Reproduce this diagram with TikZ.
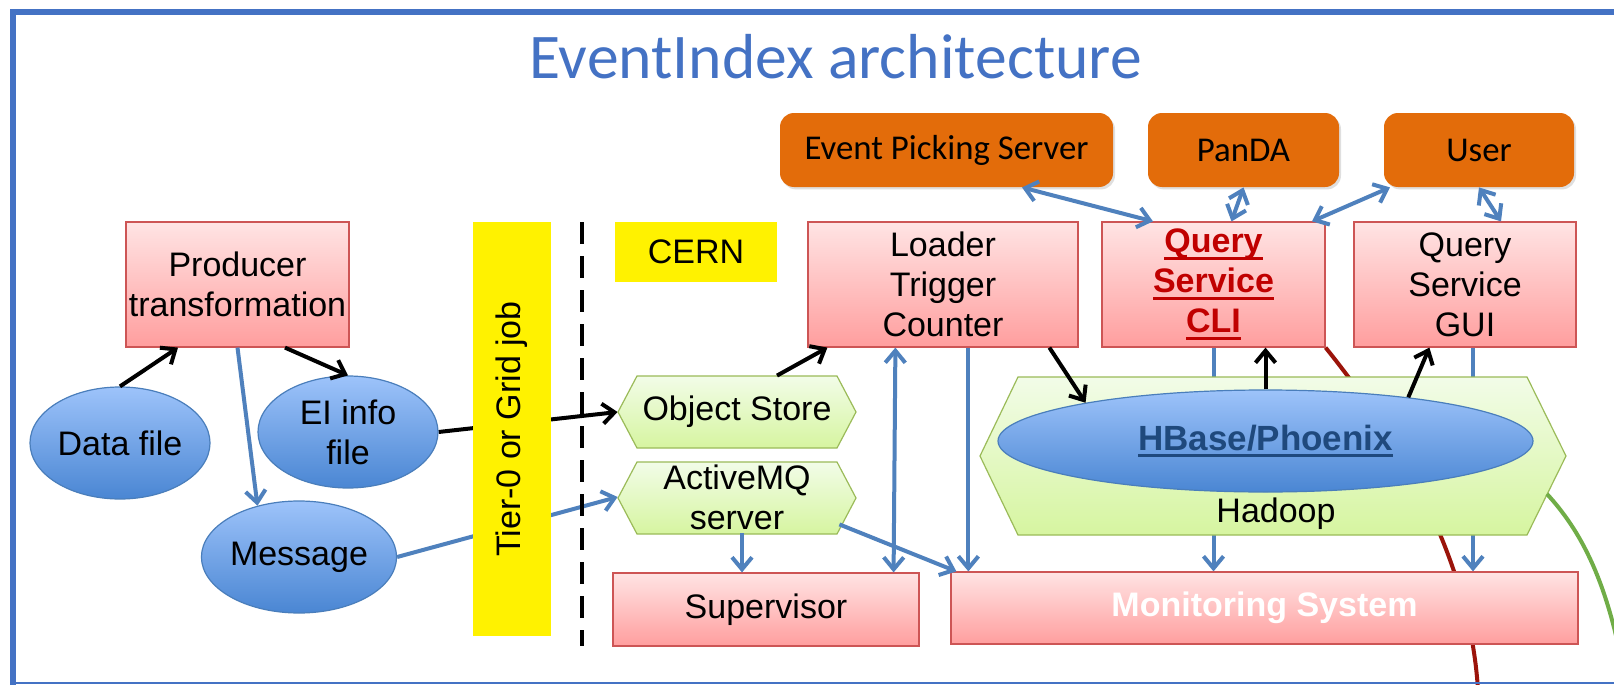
\documentclass[tikz,border=0pt]{standalone}
\usepackage{fontspec}
\setmainfont{Liberation Sans}
\newfontfamily\calibri{Carlito}
\usetikzlibrary{arrows.meta,shapes.geometric,calc,shadows}
\pgfdeclarelayer{bg}
\pgfdeclarelayer{back}
\pgfsetlayers{bg,back,main}

\definecolor{eblue}{RGB}{79,129,189}
\definecolor{frameblue}{RGB}{68,114,196}
\definecolor{orng}{RGB}{227,108,10}
\definecolor{redborder}{RGB}{205,85,85}
\definecolor{redtop}{RGB}{255,228,228}
\definecolor{redbot}{RGB}{255,158,158}
\definecolor{greentop}{RGB}{242,252,232}
\definecolor{greenbot}{RGB}{214,245,160}
\definecolor{greenborder}{RGB}{155,187,89}
\definecolor{elltop}{RGB}{157,195,250}
\definecolor{ellbot}{RGB}{74,134,211}
\definecolor{ellborder}{RGB}{74,126,187}
\definecolor{darkred}{RGB}{192,0,0}
\definecolor{hbtext}{RGB}{31,73,125}
\definecolor{redcurve}{RGB}{155,20,10}
\definecolor{greencurve}{RGB}{112,173,71}

\newlength\ulen
\newcommand\myul[1]{\settowidth\ulen{#1}\rlap{\rule[-3.5pt]{\ulen}{1.4pt}}#1}

\begin{document}
\begin{tikzpicture}[x=0.5pt,y=-0.5pt,
 txt/.style={font=\fontsize{17}{20}\selectfont, align=center, inner sep=0pt},
 redbox/.style={txt, rectangle, draw=redborder, line width=0.6pt, top color=redtop, bottom color=redbot},
 orbox/.style={font=\calibri\fontsize{17.4}{20}\selectfont, rectangle, fill=orng, rounded corners=7pt, inner sep=0pt,
   drop shadow={opacity=0.25,shadow xshift=1pt,shadow yshift=-1.2pt}},
 blueell/.style={txt, ellipse, draw=ellborder, line width=0.6pt, top color=elltop, bottom color=ellbot},
 hexfill/.style={draw=greenborder, line width=0.6pt, top color=greentop, bottom color=greenbot},
 ybox/.style={txt, rectangle, fill=yellow},
 barrow/.style={line width=2pt, eblue, -{Straight Barb[length=6pt,width=10pt]}},
 karrow/.style={line width=2pt, black, -{Straight Barb[length=6pt,width=10pt]}},
 bdouble/.style={line width=2pt, eblue, {Straight Barb[length=6pt,width=10pt]}-{Straight Barb[length=6pt,width=10pt]}},
]
\useasboundingbox (0,0) rectangle (1614,685);
\begin{pgfonlayer}{bg}
\fill[white] (0,0) rectangle (1614,685);
\end{pgfonlayer}

% frame
\draw[frameblue, line width=2.75pt] (13,686) -- (13,12) -- (1620,12);
\draw[frameblue, line width=1pt] (13,683) -- (1620,683);

% title
\node[font=\calibri\fontsize{31.8}{36}\selectfont, text=frameblue, anchor=base, inner sep=0pt] (title) at (835.5,78) {EventIndex architecture};

% left part
\node[redbox, minimum width=111.5pt, minimum height=62.5pt] (prod) at (237.5,284.5) {Producer\\transformation};
\node[blueell, minimum width=90pt, minimum height=56pt] (datafile) at (120,443) {Data file};
\node[blueell, minimum width=90pt, minimum height=56pt] (eiinfo) at (348,432) {EI info\\file};
\node[blueell, minimum width=89pt, minimum height=56pt] (message) at (299,557) {Message};

\node[ybox, rotate=90, minimum width=207pt, minimum height=39pt] (tier) at (512,429) {Tier-0 or Grid job};
\draw[line width=2pt, dash pattern=on 11pt off 6pt] (582,222) -- (582,646);

\node[ybox, minimum width=81pt, minimum height=30pt] (cern) at (696,252) {CERN};

% hexagons
\path[hexfill] (618,412) -- (637,376) -- (837,376) -- (856,412) -- (837,448) -- (637,448) -- cycle;
\node[txt, minimum width=119pt, minimum height=36pt] (objstore) at (737,412) {Object Store};
\path[hexfill] (618,498) -- (637,462) -- (837,462) -- (856,498) -- (837,534) -- (637,534) -- cycle;
\node[txt, minimum width=119pt, minimum height=36pt] (activemq) at (737,497) {ActiveMQ\\server};

\node[redbox, minimum width=153pt, minimum height=36.5pt] (supervisor) at (766,609.5) {Supervisor};
\node[redbox, minimum width=135pt, minimum height=62.5pt] (loader) at (943,284.5) {Loader\\Trigger\\Counter};

% top orange
\node[orbox, minimum width=166.5pt, minimum height=37pt] (epick) at (946.5,150) {Event Picking Server};
\node[orbox, minimum width=95.5pt, minimum height=37pt] (panda) at (1243.5,150) {PanDA};
\node[orbox, minimum width=95pt, minimum height=37pt] (user) at (1479,150) {User};

\node[redbox, font=\fontsize{17}{20}\selectfont\bfseries, text=darkred, minimum width=111.5pt, minimum height=62.5pt] (cli) at (1213.5,284.5) {\myul{Query}\\\myul{Service}\\\myul{CLI}};
\node[redbox, minimum width=111pt, minimum height=62.5pt] (gui) at (1465,284.5) {Query\\Service\\GUI};

% Hadoop
\path[hexfill] (980,456) -- (1018,377) -- (1527,377) -- (1566,456) -- (1527,535) -- (1018,535) -- cycle;
\node[txt] (hadoop) at (1276,514) {Hadoop};
\node[blueell, minimum width=267.5pt, minimum height=51pt, font=\fontsize{17.5}{20}\selectfont\bfseries, text=hbtext] (hbase) at (1265.5,441) {\myul{HBase/Phoenix}};

\node[redbox, font=\fontsize{17}{20}\selectfont\bfseries, text=white, minimum width=313.5pt, minimum height=36pt] (monitoring) at (1264.5,608) {Monitoring System};

% lines behind
\begin{pgfonlayer}{back}
\draw[karrow] (eiinfo.east) -- (objstore.west);
\draw[barrow] (message.east) -- (activemq.west);
\draw[barrow] (cli.south) -- (cli.south |- monitoring.north);
\draw[barrow] ([xshift=4pt]gui.south) -- ([xshift=4pt]gui.south |- monitoring.north);
\draw[redcurve, line width=2pt] (cli.south east) .. controls (1400,440) and (1470,560) .. (1478,690);
\end{pgfonlayer}

% green curve
\coordinate (gstart) at (1547,494);
\draw[greencurve, line width=2pt] (gstart) .. controls (1580,530) and (1608,580) .. (1625,680);

% connectors
\draw[karrow] (datafile.north) -- ([xshift=-29.75pt]prod.south);
\draw[karrow] ([xshift=23.75pt]prod.south) -- (eiinfo.north);
\draw[barrow] (prod.south) -- (message.129);
\draw[karrow] ([xshift=20pt]objstore.north) -- ([xshift=10pt]loader.south west);
\draw[barrow] ([xshift=2.5pt]activemq.south) -- ([xshift=2.5pt]activemq.south |- supervisor.north);
\draw[barrow] ([xshift=-8.5pt,yshift=4.5pt]activemq.south east) -- ([xshift=3pt]monitoring.north west);
\draw[bdouble] ([xshift=-13pt]supervisor.north east) -- ([xshift=44pt]loader.south west);
\draw[barrow] ([xshift=80.5pt]loader.south west) -- ([xshift=80.5pt]loader.south west |- monitoring.north);
\draw[karrow] ([xshift=121pt]loader.south west) -- (hbase.168);
\draw[karrow] (hbase.north) -- (hbase.north |- cli.south);
\draw[karrow] (hbase.17) -- ([xshift=38pt]gui.south west);

\draw[bdouble] ([xshift=37.75pt]epick.south) -- ([xshift=-30.25pt]cli.north);
\draw[bdouble] (panda.south) -- ([xshift=9pt]cli.north);
\draw[bdouble] ([xshift=-44.5pt]user.south) -- ([xshift=49.25pt]cli.north);
\draw[bdouble] (user.south) -- ([xshift=18pt]gui.north);
\end{tikzpicture}
\end{document}
